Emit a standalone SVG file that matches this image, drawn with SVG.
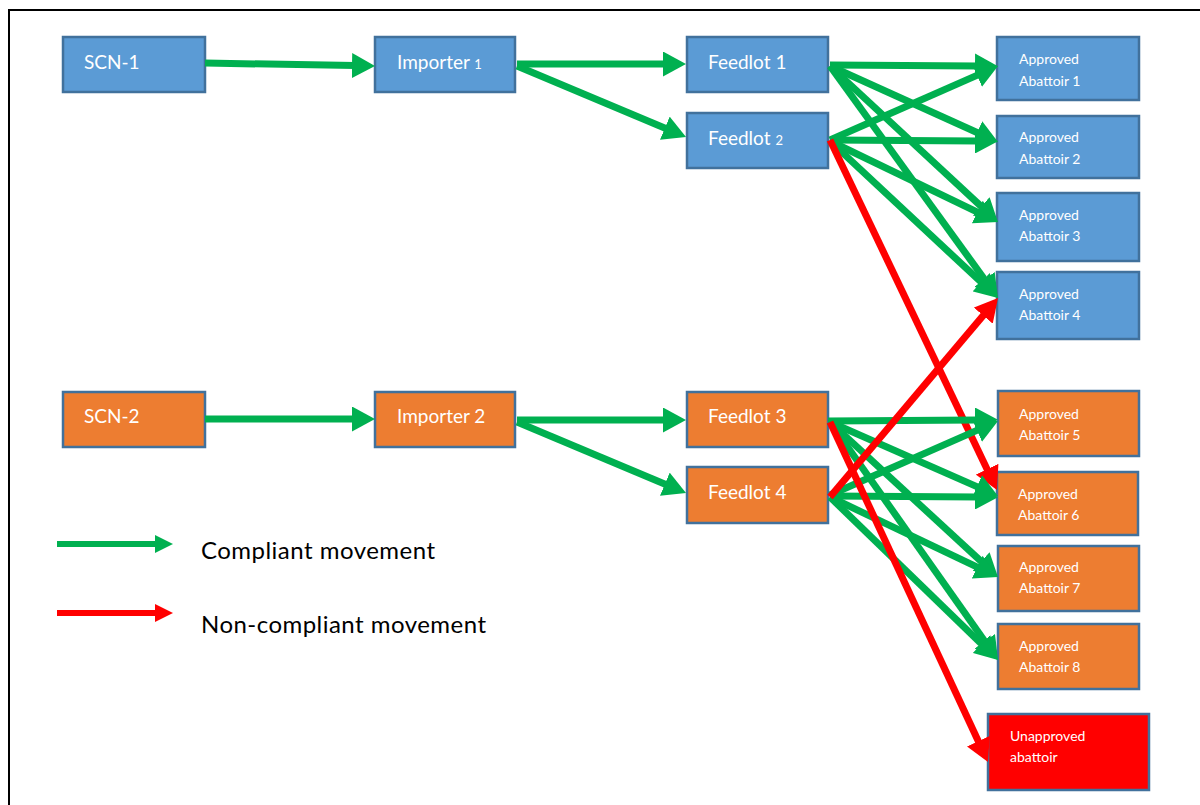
<svg xmlns="http://www.w3.org/2000/svg" width="1200" height="805" viewBox="0 0 1200 805">
<style>
.box{stroke:#41719C;stroke-width:2.5}
.blue{fill:#5B9BD5}
.orange{fill:#ED7D31}
.red{fill:#FF0000}
.t{font-family:Lato,"Liberation Sans",sans-serif;fill:#fff}
.big{font-size:19px}
.small{font-size:13px}
.ab{font-size:14px}
.g{stroke:#00B050;stroke-width:7;fill:none}
.r{stroke:#FF0000;stroke-width:7;fill:none}
.lg{stroke:#00B050;stroke-width:6;fill:none}
.lr{stroke:#FF0000;stroke-width:6;fill:none}
.leg{font-family:Lato,"Liberation Sans",sans-serif;font-size:24px;fill:#000}
</style>
<defs>
<marker id="ag" markerUnits="userSpaceOnUse" markerWidth="23" markerHeight="25" refX="3" refY="12.5" orient="auto"><path d="M0,0 L23,12.5 L0,25 z" fill="#00B050"/></marker>
<marker id="ar" markerUnits="userSpaceOnUse" markerWidth="23" markerHeight="25" refX="3" refY="12.5" orient="auto"><path d="M0,0 L23,12.5 L0,25 z" fill="#FF0000"/></marker>
<marker id="mlg" markerUnits="userSpaceOnUse" markerWidth="18" markerHeight="18" refX="1" refY="9" orient="auto"><path d="M0,0 L18,9 L0,18 z" fill="#00B050"/></marker>
<marker id="mlr" markerUnits="userSpaceOnUse" markerWidth="18" markerHeight="18" refX="1" refY="9" orient="auto"><path d="M0,0 L18,9 L0,18 z" fill="#FF0000"/></marker>
</defs>
<rect width="1200" height="805" fill="#fff"/>
<path d="M9,805 L9,10 L1200,10" fill="none" stroke="#000" stroke-width="2"/>

<g id="scn1"><rect class="box blue" x="63" y="37" width="142" height="55"/><text class="t big" x="84" y="69">SCN-1</text></g>
<g id="importer1"><rect class="box blue" x="375" y="37" width="140" height="55"/><text class="t big" x="397" y="69">Importer <tspan class="small">1</tspan></text></g>
<g id="feedlot1"><rect class="box blue" x="687" y="37" width="141" height="55"/><text class="t big" x="708" y="69">Feedlot 1</text></g>
<g id="feedlot2"><rect class="box blue" x="687" y="113" width="141" height="55"/><text class="t big" x="708" y="145">Feedlot <tspan class="small">2</tspan></text></g>
<g id="abattoir1"><rect class="box blue" x="997" y="37" width="142" height="63"/><text class="t ab" x="1019" y="64">Approved</text><text class="t ab" x="1019" y="86">Abattoir 1</text></g>
<g id="abattoir2"><rect class="box blue" x="997" y="116" width="142" height="62"/><text class="t ab" x="1019" y="142">Approved</text><text class="t ab" x="1019" y="164">Abattoir 2</text></g>
<g id="abattoir3"><rect class="box blue" x="997" y="193" width="142" height="68"/><text class="t ab" x="1019" y="220">Approved</text><text class="t ab" x="1019" y="241">Abattoir 3</text></g>
<g id="abattoir4"><rect class="box blue" x="997" y="272" width="142" height="67"/><text class="t ab" x="1019" y="299">Approved</text><text class="t ab" x="1019" y="320">Abattoir 4</text></g>

<g id="scn2"><rect class="box orange" x="63" y="392" width="142" height="55"/><text class="t big" x="84" y="423">SCN-2</text></g>
<g id="importer2"><rect class="box orange" x="375" y="392" width="140" height="55"/><text class="t big" x="397" y="423">Importer 2</text></g>
<g id="feedlot3"><rect class="box orange" x="687" y="392" width="141" height="55"/><text class="t big" x="708" y="423">Feedlot 3</text></g>
<g id="feedlot4"><rect class="box orange" x="687" y="467" width="141" height="56"/><text class="t big" x="708" y="499">Feedlot 4</text></g>
<g id="abattoir5"><rect class="box orange" x="998" y="391" width="141" height="65"/><text class="t ab" x="1019" y="419">Approved</text><text class="t ab" x="1019" y="440">Abattoir 5</text></g>
<g id="abattoir6"><rect class="box orange" x="997" y="472" width="141" height="63"/><text class="t ab" x="1018" y="499">Approved</text><text class="t ab" x="1018" y="520">Abattoir 6</text></g>
<g id="abattoir7"><rect class="box orange" x="998" y="546" width="141" height="65"/><text class="t ab" x="1019" y="572">Approved</text><text class="t ab" x="1019" y="593">Abattoir 7</text></g>
<g id="abattoir8"><rect class="box orange" x="998" y="624" width="141" height="65"/><text class="t ab" x="1019" y="651">Approved</text><text class="t ab" x="1019" y="672">Abattoir 8</text></g>
<g id="unapproved"><rect class="box red" x="988" y="714" width="161" height="76"/><text class="t ab" x="1010" y="741">Unapproved</text><text class="t ab" x="1010" y="762">abattoir</text></g>

<g id="connectors">
<line class="g" x1="205" y1="63" x2="355" y2="65.6" marker-end="url(#ag)"/>
<line class="g" x1="517" y1="64" x2="666" y2="64" marker-end="url(#ag)"/>
<line class="g" x1="517" y1="66" x2="667.6" y2="129.3" marker-end="url(#ag)"/>
<line class="g" x1="830" y1="65" x2="978" y2="66" marker-end="url(#ag)"/>
<line class="g" x1="830" y1="66" x2="979.8" y2="133.8" marker-end="url(#ag)"/>
<line class="g" x1="830" y1="66" x2="983.3" y2="208.4" marker-end="url(#ag)"/>
<line class="g" x1="830" y1="66" x2="986.3" y2="281.8" marker-end="url(#ag)"/>
<line class="g" x1="830" y1="140" x2="979.7" y2="74.1" marker-end="url(#ag)"/>
<line class="g" x1="830" y1="140" x2="978" y2="141" marker-end="url(#ag)"/>
<line class="g" x1="830" y1="141" x2="980" y2="213.3" marker-end="url(#ag)"/>
<line class="g" x1="830" y1="141" x2="983.4" y2="284.3" marker-end="url(#ag)"/>
<line class="r" x1="830" y1="140" x2="988.4" y2="471.9" marker-end="url(#ar)"/>
<line class="g" x1="205" y1="419" x2="355" y2="419" marker-end="url(#ag)"/>
<line class="g" x1="517" y1="420" x2="666" y2="420" marker-end="url(#ag)"/>
<line class="g" x1="517" y1="422" x2="667.6" y2="485.3" marker-end="url(#ag)"/>
<line class="g" x1="828" y1="421" x2="978" y2="420" marker-end="url(#ag)"/>
<line class="g" x1="830" y1="422" x2="979.7" y2="487.9" marker-end="url(#ag)"/>
<line class="g" x1="830" y1="422" x2="983.3" y2="563.4" marker-end="url(#ag)"/>
<line class="g" x1="830" y1="422" x2="986.5" y2="643.7" marker-end="url(#ag)"/>
<line class="g" x1="830" y1="495" x2="979.7" y2="429.1" marker-end="url(#ag)"/>
<line class="g" x1="830" y1="496" x2="978" y2="497" marker-end="url(#ag)"/>
<line class="g" x1="830" y1="497" x2="979.9" y2="568.4" marker-end="url(#ag)"/>
<line class="g" x1="830" y1="497" x2="983.6" y2="646.1" marker-end="url(#ag)"/>
<line class="r" x1="830" y1="497" x2="985.1" y2="313.3" marker-end="url(#ar)"/>
<line class="r" x1="830" y1="422" x2="979.6" y2="743.9" marker-end="url(#ar)"/>
</g>

<g id="legend">
<line class="lg" x1="57" y1="544" x2="156" y2="544" marker-end="url(#mlg)"/>
<text class="leg" x="201" y="559" textLength="234">Compliant movement</text>
<line class="lr" x1="57" y1="613" x2="156" y2="613" marker-end="url(#mlr)"/>
<text class="leg" x="201" y="633" textLength="285">Non-compliant movement</text>
</g>
</svg>
